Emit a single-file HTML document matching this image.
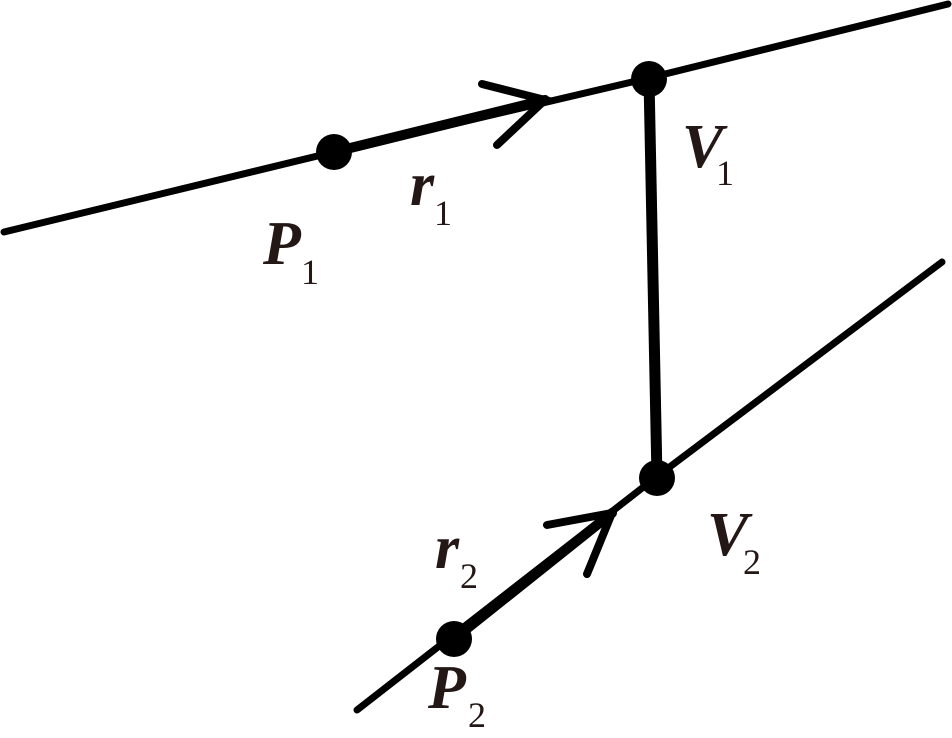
<!DOCTYPE html>
<html>
<head>
<meta charset="utf-8">
<style>
html,body{margin:0;padding:0;background:#fff;width:952px;height:738px;overflow:hidden}
svg{display:block}
text{font-family:"Liberation Serif",serif;fill:#231815}
.m{font-size:62px;font-weight:bold;font-style:italic}
.s{font-size:36px}
</style>
</head>
<body>
<svg width="952" height="738" viewBox="0 0 952 738" xmlns="http://www.w3.org/2000/svg">
<g stroke="#000" fill="none" stroke-linecap="round" stroke-linejoin="miter">
<path d="M4 232L334 152L649 78L948 4" stroke-width="7"/>
<path d="M334 152L545 100" stroke-width="10"/>
<path d="M482 84L545 100L497 145" stroke-width="8"/>
<path d="M649 79L657 478" stroke-width="11" stroke-linecap="butt"/>
<path d="M357 710L655 478L942 262" stroke-width="7"/>
<path d="M454 639L612 513" stroke-width="10"/>
<path d="M547 525L612 513L587 574" stroke-width="8"/>
</g>
<g fill="#000">
<circle cx="334" cy="152" r="18"/>
<circle cx="649" cy="79" r="18"/>
<circle cx="657" cy="478" r="18"/>
<circle cx="454" cy="639" r="18"/>
</g>
<text class="m" x="263" y="264">P</text><text class="s" x="301" y="284">1</text>
<text class="m" x="410" y="205">r</text><text class="s" x="434" y="225">1</text>
<text class="m" x="682" y="167">V</text><text class="s" x="716" y="185">1</text>
<text class="m" x="435" y="568">r</text><text class="s" x="460" y="588">2</text>
<text class="m" x="428" y="708">P</text><text class="s" x="468" y="727">2</text>
<text class="m" x="707" y="555">V</text><text class="s" x="743" y="574">2</text>
</svg>
</body>
</html>
